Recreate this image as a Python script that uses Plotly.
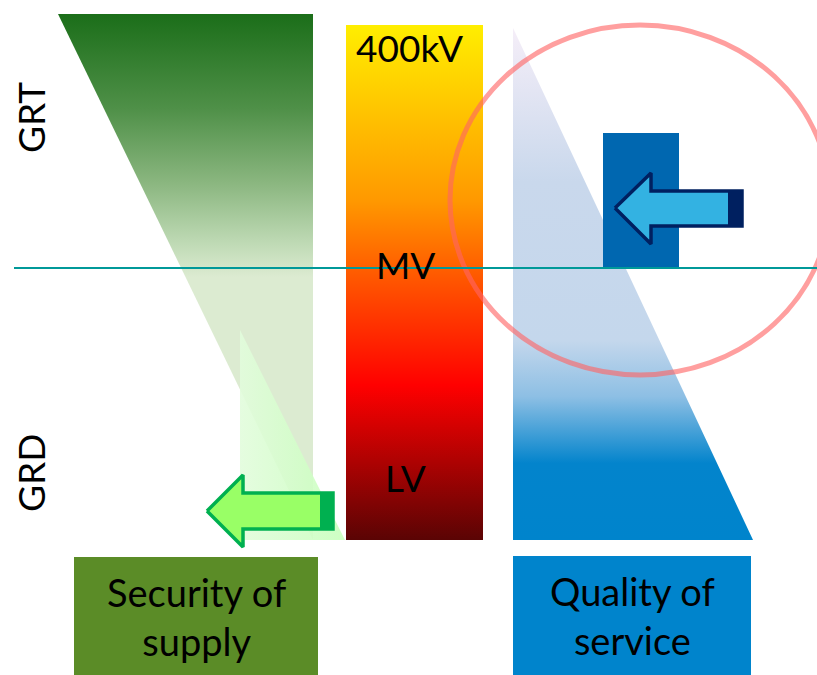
import plotly.graph_objects as go

W, H = 817, 675
FONT = "Lato"

# ---- diagram geometry (pixel coordinates, y downwards) ----
sec_tri_x = [58, 313, 313]
sec_tri_y = [14, 14, 540]
sec_small_x = [240, 240, 345]
sec_small_y = [330, 540, 540]
green_arrow_x = [207, 243, 243, 333, 333, 243, 243, 207]
green_arrow_y = [511, 475, 493, 493, 529, 529, 547, 511]
green_tail_x = [320, 333, 333, 320, 320]
green_tail_y = [493, 493, 529, 529, 493]

volt_x = [346, 483, 483, 346, 346]
volt_y = [25, 25, 540, 540, 25]
volt_labels = ["400kV", "MV", "LV"]
volt_label_x = [409, 405, 405]
volt_label_y = [47, 264, 477]

qual_tri_x = [513, 513, 753]
qual_tri_y = [28, 540, 540]
qual_rect_x = [603, 679, 679, 603, 603]
qual_rect_y = [133, 133, 268, 268, 133]
blue_arrow_x = [615, 651, 651, 742, 742, 651, 651, 615]
blue_arrow_y = [208, 173, 191, 191, 226, 226, 244, 208]
blue_tail_x = [728, 742, 742, 728, 728]
blue_tail_y = [191, 191, 226, 226, 191]

side_labels = ["GRT", "GRD"]
side_label_y = [118, 473]

box_labels = ["Security of<br>supply", "Quality of<br>service"]
box_x0 = [74, 513]
box_x1 = [318, 751]
box_y0 = [557, 556]
box_colors = ["#5b8c27", "#0084cc"]

divider_y = 268

fig = go.Figure()

def poly(x, y, **kw):
    fig.add_trace(go.Scatter(x=x, y=y, mode="lines", fill="toself",
                             hoverinfo="skip", showlegend=False, **kw))

# security of supply triangle with vertical gradient
poly(sec_tri_x, sec_tri_y, line=dict(width=0),
     fillgradient=dict(type="vertical", start=14, stop=540,
                       colorscale=[[0, "#1b6e19"], [0.18, "#4f9048"], [0.32, "#8ab67f"],
                                   [0.43, "#bcd8b2"], [0.5, "#dcebd1"], [1, "#dcebd1"]]))
poly(sec_small_x, sec_small_y, line=dict(width=0),
     fillgradient=dict(type="horizontal", start=240, stop=345,
                       colorscale=[[0, "rgba(226,252,220,0.9)"], [1, "rgba(200,255,188,0.9)"]]))
poly(green_arrow_x, green_arrow_y, line=dict(color="#00b050", width=3.5), fillcolor="#99ff66")
poly(green_tail_x, green_tail_y, line=dict(width=0), fillcolor="#00b050")

# voltage bar
poly(volt_x, volt_y, line=dict(width=0),
     fillgradient=dict(type="vertical", start=25, stop=540,
                       colorscale=[[0, "#ffee00"], [0.34, "#ff9900"], [0.47, "#ff6000"],
                                   [0.70, "#ff0000"], [1, "#5a0404"]]))

# quality of service triangle
poly(qual_tri_x, qual_tri_y, line=dict(width=0),
     fillgradient=dict(type="vertical", start=28, stop=540,
                       colorscale=[[0, "#f5eef8"], [0.3, "#c9d8ec"], [0.61, "#c4d7ec"],
                                   [0.72, "#8dbfe4"], [0.85, "#0384cc"], [1, "#0084cc"]]))
poly(qual_rect_x, qual_rect_y, line=dict(width=0), fillcolor="#0067b0")
poly(blue_arrow_x, blue_arrow_y, line=dict(color="#002060", width=3.5), fillcolor="#33b2e2")
poly(blue_tail_x, blue_tail_y, line=dict(width=0), fillcolor="#002060")

shapes = []
for x0, x1, y0, c in zip(box_x0, box_x1, box_y0, box_colors):
    shapes.append(dict(type="rect", xref="x", yref="y", x0=x0, x1=x1, y0=y0, y1=H,
                       fillcolor=c, line=dict(width=0), layer="above"))
shapes.append(dict(type="circle", xref="x", yref="y", x0=450, x1=830, y0=25, y1=375,
                   line=dict(color="rgba(255,100,100,0.62)", width=5), layer="above"))
shapes.append(dict(type="line", xref="x", yref="y", x0=14, x1=W, y0=divider_y, y1=divider_y,
                   line=dict(color="#009999", width=2), layer="above"))

annotations = []
for t, x, y in zip(volt_labels, volt_label_x, volt_label_y):
    annotations.append(dict(text=t, x=x, y=y, xref="x", yref="y", showarrow=False,
                            font=dict(family=FONT, size=37, color="black")))
for t, y in zip(side_labels, side_label_y):
    annotations.append(dict(text=t, x=30, y=y, xref="x", yref="y", showarrow=False,
                            textangle=-90, font=dict(family=FONT, size=37, color="black")))
for t, x0, x1, y0 in zip(box_labels, box_x0, box_x1, box_y0):
    annotations.append(dict(text=t, x=(x0 + x1) / 2, y=(y0 + H) / 2, xref="x", yref="y",
                            showarrow=False, font=dict(family=FONT, size=38, color="black")))

fig.update_layout(
    width=W, height=H, margin=dict(l=0, r=0, t=0, b=0),
    paper_bgcolor="white", plot_bgcolor="white",
    xaxis=dict(range=[0, W], visible=False, fixedrange=True),
    yaxis=dict(range=[H, 0], visible=False, fixedrange=True),
    shapes=shapes, annotations=annotations, showlegend=False,
)
fig.write_html("out.html")
